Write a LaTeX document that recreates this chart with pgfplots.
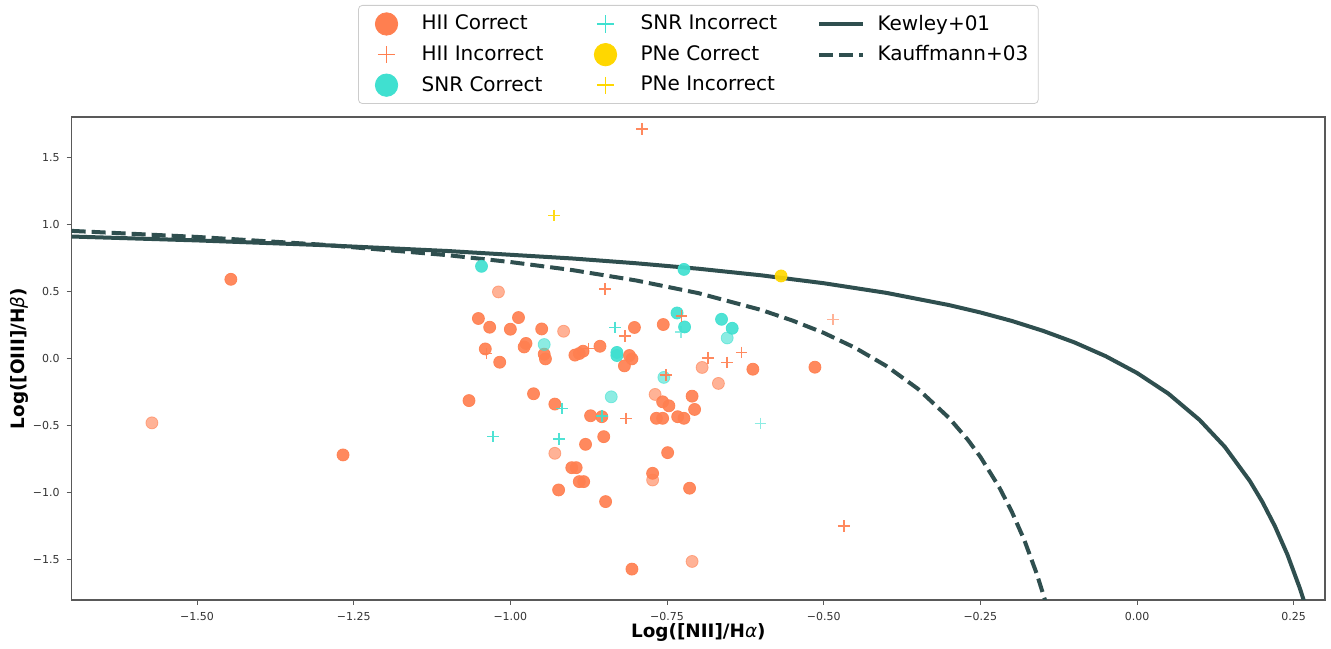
\documentclass[border=0pt]{standalone}
\usepackage{fontspec}
\setmainfont{DejaVu Sans}
\usepackage{pgfplots}
\pgfplotsset{compat=1.18}
\definecolor{hii}{HTML}{FF7F50}
\definecolor{snr}{HTML}{40E0D0}
\definecolor{pne}{HTML}{FFD700}
\definecolor{bpt}{HTML}{2F4F4F}

% legend handles: markers centred in a fixed-width slot, lines across it
\pgfplotsset{
  dot legend/.style={legend image code/.code={
      \path (0pt,0pt) (21.7pt,0pt);
      \draw[##1] plot coordinates {(10.85pt,0pt)};}},
  bar legend line/.style={legend image code/.code={
      \draw[##1] (0pt,0pt) -- (21.7pt,0pt);}},
}

\begin{document}
\begin{tikzpicture}
\begin{axis}[
    name=ax,
    scale only axis,
    width=626.7pt, height=241.5pt,
    xmin=-1.70, xmax=0.30, ymin=-1.8, ymax=1.8,
    axis line style={black!65, line width=0.6pt},
    tick align=outside, tick pos=left,
    major tick length=2.5pt,
    tick style={black!65, line width=0.5pt},
    xtick={-1.5,-1.25,-1,-0.75,-0.5,-0.25,0,0.25},
    xticklabels={−1.50,−1.25,−1.00,−0.75,−0.50,−0.25,0.00,0.25},
    ytick={-1.5,-1,-0.5,0,0.5,1,1.5},
    yticklabels={−1.5,−1.0,−0.5,0.0,0.5,1.0,1.5},
    ticklabel style={font=\fontsize{5.5}{6.5}\selectfont, text=black!80},
    xlabel={Log([NII]/H{\mdseries\itshape α})},
    ylabel={Log([OIII]/H{\mdseries\itshape β})},
    label style={font=\bfseries\fontsize{9.2}{11}\selectfont},
    xlabel style={at={(axis description cs:0.5,-0.0683)}, anchor=center},
    ylabel style={at={(axis description cs:-0.0413,0.5)}, anchor=center},
    legend columns=3,
    legend cell align=left,
    legend style={at={(axis description cs:0.5,1)}, anchor=south, yshift=6.5pt,
        draw=black!20, rounded corners=2pt, fill=white,
        inner xsep=3pt, inner ysep=2.75pt,
        font=\fontsize{10}{12}\selectfont, row sep=2.25pt,
        /tikz/every odd column/.append style={column sep=4.5pt},
        /tikz/every even column/.append style={column sep=18pt}},
]
% legend handles, in row order of a three-column legend
\addlegendimage{hii, only marks, mark=*, mark size=5.6pt, mark options={fill=hii}, dot legend}
\addlegendentry{HII Correct}
\addlegendimage{snr, only marks, mark=+, mark size=4.3pt, mark options={line width=0.7pt}, dot legend}
\addlegendentry{SNR Incorrect}
\addlegendimage{bpt, line width=2pt, bar legend line}
\addlegendentry{Kewley+01}
\addlegendimage{hii, only marks, mark=+, mark size=4.3pt, mark options={line width=0.7pt}, dot legend}
\addlegendentry{HII Incorrect}
\addlegendimage{pne, only marks, mark=*, mark size=5.6pt, mark options={fill=pne}, dot legend}
\addlegendentry{PNe Correct}
\addlegendimage{bpt, line width=2pt, dash pattern=on 7pt off 3pt, bar legend line}
\addlegendentry{Kauffmann+03}
\addlegendimage{snr, only marks, mark=*, mark size=5.6pt, mark options={fill=snr}, dot legend}
\addlegendentry{SNR Correct}
\addlegendimage{pne, only marks, mark=+, mark size=4.3pt, mark options={line width=0.7pt}, dot legend}
\addlegendentry{PNe Incorrect}

% HII correct
\addplot[hii, only marks, mark=*, mark size=3pt, mark options={fill=hii, opacity=0.92}, forget plot] coordinates {
 (-1.446,0.590) (-1.267,-0.719) (-1.066,-0.314) (-1.051,0.298) (-1.033,0.233)
 (-0.987,0.305) (-1.000,0.218) (-0.950,0.220) (-1.040,0.071) (-1.017,-0.028)
 (-0.975,0.112) (-0.978,0.086) (-0.946,0.032) (-0.944,-0.003) (-0.897,0.025)
 (-0.890,0.037) (-0.884,0.054) (-0.857,0.091) (-0.802,0.231) (-0.810,0.022)
 (-0.806,-0.003) (-0.818,-0.055) (-0.963,-0.263) (-0.929,-0.340) (-0.872,-0.427)
 (-0.854,-0.434) (-0.756,0.253) (-0.613,-0.080) (-0.514,-0.065) (-0.757,-0.323)
 (-0.747,-0.353) (-0.710,-0.281) (-0.706,-0.380) (-0.767,-0.446) (-0.757,-0.446)
 (-0.733,-0.434) (-0.723,-0.446) (-0.851,-0.583) (-0.880,-0.640) (-0.749,-0.702)
 (-0.902,-0.814) (-0.895,-0.814) (-0.773,-0.856) (-0.890,-0.918) (-0.883,-0.918)
 (-0.923,-0.980) (-0.714,-0.967) (-0.848,-1.067) (-0.806,-1.570)
};
\addplot[hii, only marks, mark=*, mark size=3pt, mark options={fill=hii, opacity=0.6}, forget plot] coordinates {
 (-1.572,-0.480) (-1.019,0.496) (-0.915,0.203) (-0.694,-0.067) (-0.668,-0.186)
 (-0.769,-0.268) (-0.773,-0.906) (-0.710,-1.513) (-0.929,-0.707)
};
% SNR correct
\addplot[snr, only marks, mark=*, mark size=3pt, mark options={fill=snr, opacity=0.92}, forget plot] coordinates {
 (-1.046,0.687) (-0.723,0.664) (-0.830,0.045) (-0.830,0.022) (-0.734,0.339)
 (-0.722,0.235) (-0.663,0.292) (-0.646,0.225)
};
\addplot[snr, only marks, mark=*, mark size=3pt, mark options={fill=snr, opacity=0.6}, forget plot] coordinates {
 (-0.946,0.104) (-0.839,-0.286) (-0.755,-0.141) (-0.654,0.153)
};
% PNe correct
\addplot[pne, only marks, mark=*, mark size=3pt, mark options={fill=pne, opacity=0.92}, forget plot] coordinates {
 (-0.568,0.615)
};
% HII incorrect
\addplot[hii, only marks, mark=+, mark size=2.9pt, mark options={line width=0.8pt, opacity=0.92}, forget plot] coordinates {
 (-1.038,0.037) (-0.875,0.074) (-0.849,0.516) (-0.817,0.166) (-0.815,-0.446)
 (-0.727,0.315) (-0.685,0.005) (-0.654,-0.030) (-0.631,0.045) (-0.752,-0.124)
 (-0.790,1.711) (-0.468,-1.248)
};
\addplot[hii, only marks, mark=+, mark size=2.9pt, mark options={line width=0.8pt, opacity=0.6}, forget plot] coordinates {
 (-0.485,0.290)
};
% SNR incorrect
\addplot[snr, only marks, mark=+, mark size=2.9pt, mark options={line width=0.8pt, opacity=0.92}, forget plot] coordinates {
 (-0.833,0.231) (-0.918,-0.372) (-0.854,-0.427) (-0.922,-0.600) (-1.028,-0.583)
};
\addplot[snr, only marks, mark=+, mark size=2.9pt, mark options={line width=0.8pt, opacity=0.6}, forget plot] coordinates {
 (-0.728,0.198) (-0.601,-0.484)
};
% PNe incorrect
\addplot[pne, only marks, mark=+, mark size=2.9pt, mark options={line width=0.8pt, opacity=0.92}, forget plot] coordinates {
 (-0.930,1.066)
};

% Kewley+01 maximum starburst line
\addplot[bpt, line width=2pt, forget plot] coordinates {
 (-1.70,0.909) (-1.50,0.880) (-1.30,0.845) (-1.10,0.801) (-0.90,0.745)
 (-0.80,0.710) (-0.70,0.669) (-0.60,0.620) (-0.50,0.561) (-0.40,0.489)
 (-0.30,0.398) (-0.25,0.343) (-0.20,0.280) (-0.15,0.206) (-0.10,0.120)
 (-0.05,0.017) (0.00,-0.108) (0.05,-0.262) (0.10,-0.459) (0.14,-0.658)
 (0.18,-0.913) (0.20,-1.069) (0.22,-1.250) (0.24,-1.462) (0.26,-1.715)
 (0.27,-1.860)
};
% Kauffmann+03 line
\addplot[bpt, line width=2pt, dash pattern=on 7pt off 3pt, forget plot] coordinates {
 (-1.70,0.951) (-1.50,0.906) (-1.30,0.848) (-1.10,0.770) (-1.00,0.719)
 (-0.90,0.658) (-0.80,0.582) (-0.70,0.487) (-0.60,0.362) (-0.55,0.283)
 (-0.50,0.191) (-0.45,0.080) (-0.40,-0.056) (-0.35,-0.225) (-0.30,-0.443)
 (-0.27,-0.606) (-0.25,-0.733) (-0.22,-0.959) (-0.20,-1.140) (-0.18,-1.352)
 (-0.16,-1.605) (-0.145,-1.828)
};
\end{axis}
\path ([shift={(-35.85pt,-24pt)}]ax.south west) rectangle ([shift={(3pt,58.5pt)}]ax.north east);
\end{tikzpicture}
\end{document}
